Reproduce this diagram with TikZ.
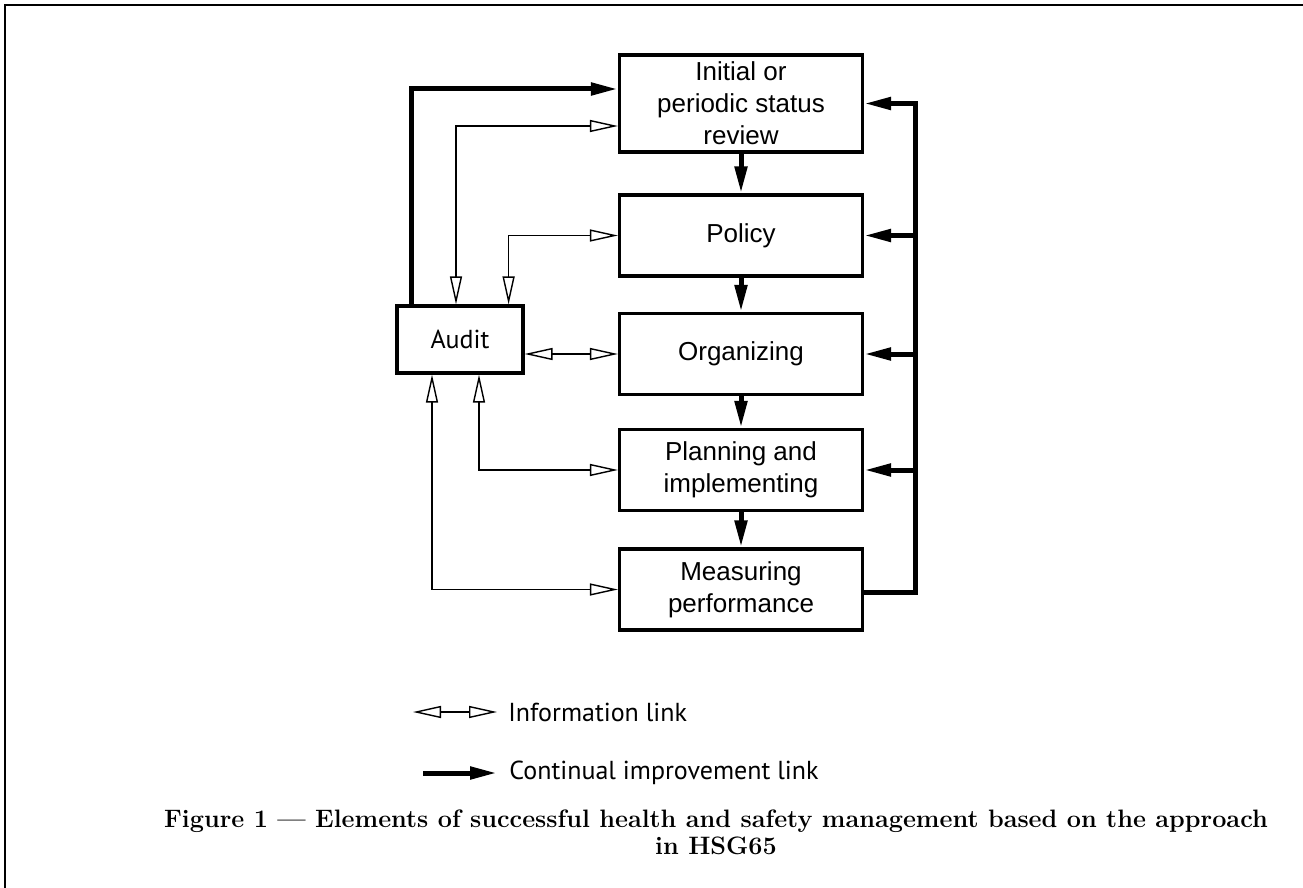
\documentclass[tikz,border=0pt]{standalone}
\usepackage{fontspec}
\newfontfamily\boxfont{Liberation Sans}
\newfontfamily\legfont{PT Sans}
\usetikzlibrary{arrows.meta}
\begin{document}
\begin{tikzpicture}[x=0.5pt,y=-0.5pt,
	box/.style={draw,line width=1.6pt,minimum width=121.5pt,minimum height=40.5pt,inner sep=1pt,align=center,font=\boxfont\fontsize{13}{16}\selectfont},
	legend/.style={anchor=west,inner sep=0pt,font=\legfont\fontsize{13}{16}\selectfont},
	improve/.style={line width=2.5pt,-{Triangle[length=13.5pt,width=6pt]}},
	info/.style={line width=0.7pt,{Triangle[open,length=14pt,width=6pt]}-{Triangle[open,length=14pt,width=6pt]}}]
	\useasboundingbox (0,0) rectangle (1303,888);
	\draw[line width=1pt] (5,888)--(5,5)--(1303,5);
	% boxes
	\node (init) at (741,103.5) [box,minimum height=48.5pt]{Initial or\\periodic status\\review};
	\node (pol) at (741,235.5) [box]{Policy};
	\node (org) at (741,354) [box]{Organizing};
	\node (plan) at (741,470) [box]{Planning and\\implementing};
	\node (meas) at (741,589.5) [box]{Measuring\\performance};
	\node (audit) at (460,339.5) [box,minimum width=63pt,minimum height=33.5pt,font=\legfont\fontsize{13}{16}\selectfont]{Audit};
	\coordinate (bus) at (915,0);
	% continual improvement
	\foreach \a/\b in {init/pol,pol/org,org/plan,plan/meas} \draw[improve] (\a)--(\b);
	\draw[improve] ([yshift=-1.5pt]meas.east) -| (bus |- init.east)--(init.east);
	\foreach \n in {pol,org,plan} \draw[improve] (bus |- \n.east)--(\n.east);
	\draw[improve] ([xshift=8pt]audit.north west) |- ([yshift=7.25pt]init.west);
	% information
	\draw[info] ([xshift=-2pt]audit.north) |- ([yshift=-11.25pt]init.west);
	\draw[info] ([xshift=-8pt]audit.north east) |- (pol.west);
	\draw[info] (audit.east |- org.west)--(org.west);
	\draw[info] ([xshift=9.5pt]audit.south) |- (plan.west);
	\draw[info] ([xshift=-14pt]audit.south) |- (meas.west);
	% legend
	\node (infotext) at (508,712) [legend]{Information link};
	\node (improvetext) at (509,773) [legend]{Continual improvement link};
	\coordinate (i1) at (413,712);
	\coordinate (c1) at (423,773);
	\draw[info] (i1)--([xshift=-5.5pt]infotext.west);
	\draw[improve] (c1)--([xshift=-6pt]improvetext.west);
	\node (caption) at (716,832) [align=center,font=\bfseries\fontsize{12.6}{13.5}\selectfont]{Figure 1 --- Elements of successful health and safety management based on the approach\\in HSG65};
\end{tikzpicture}
\end{document}
